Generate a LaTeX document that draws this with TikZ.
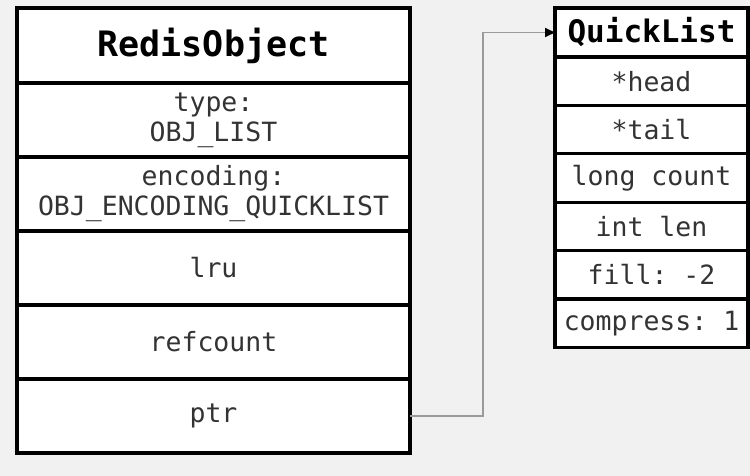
\documentclass[tikz,border=0pt]{standalone}
\usepackage{fontspec}
\setmonofont{DejaVu Sans Mono}
\usetikzlibrary{positioning,arrows.meta}
\definecolor{bg}{HTML}{F1F1F1}
\definecolor{txt}{HTML}{333333}
\definecolor{wire}{HTML}{9A9A9A}

\begin{document}
\begin{tikzpicture}[x=1pt,y=1pt]

    \fill[bg] (0,0) rectangle (750,-476);
    \useasboundingbox (0,0) rectangle (750,-476);

    \begin{scope}[every node/.style={rectangle,draw,line width=3.2pt,fill=white,outer sep=0pt,inner sep=0pt,minimum width=393pt,minimum height=74pt,align=center,text=txt,font=\ttfamily\fontsize{26.5}{30}\selectfont}]
        \node[font=\ttfamily\bfseries\fontsize{35}{40}\selectfont,text=black,minimum height=75pt] (obj) at (213.5,-45.5) {RedisObject};
        \node[below=0pt of obj] (type) {type:\\OBJ\_LIST};
        \node[below=0pt of type] (enc) {encoding:\\OBJ\_ENCODING\_QUICKLIST};
        \node[below=0pt of enc] (lru) {lru};
        \node[below=0pt of lru] (ref) {refcount};
        \node[below=0pt of ref] (ptr) {ptr};
    \end{scope}

    \begin{scope}[every node/.style={rectangle,draw,line width=3.2pt,fill=white,outer sep=0pt,inner sep=0pt,minimum width=193pt,minimum height=48.4pt,align=center,text=txt,font=\ttfamily\fontsize{26.5}{30}\selectfont}]
        \node[font=\ttfamily\bfseries\fontsize{31}{36}\selectfont,text=black,minimum height=49pt] (ql) at (651.5,-32.5) {QuickList};
        \node[below=0pt of ql] (head) {*head};
        \node[below=0pt of head] (tail) {*tail};
        \node[below=0pt of tail] (count) {long count};
        \node[below=0pt of count] (len) {int len};
        \node[below=0pt of len] (fill) {fill: -2};
        \node[below=0pt of fill] (comp) {compress: 1};
    \end{scope}

    \draw[wire,line width=1.8pt,-{Triangle[color=black,length=10pt,width=9pt]}] (ptr.east) -- ++(73,0) |- (ql.west);

\end{tikzpicture}
\end{document}
